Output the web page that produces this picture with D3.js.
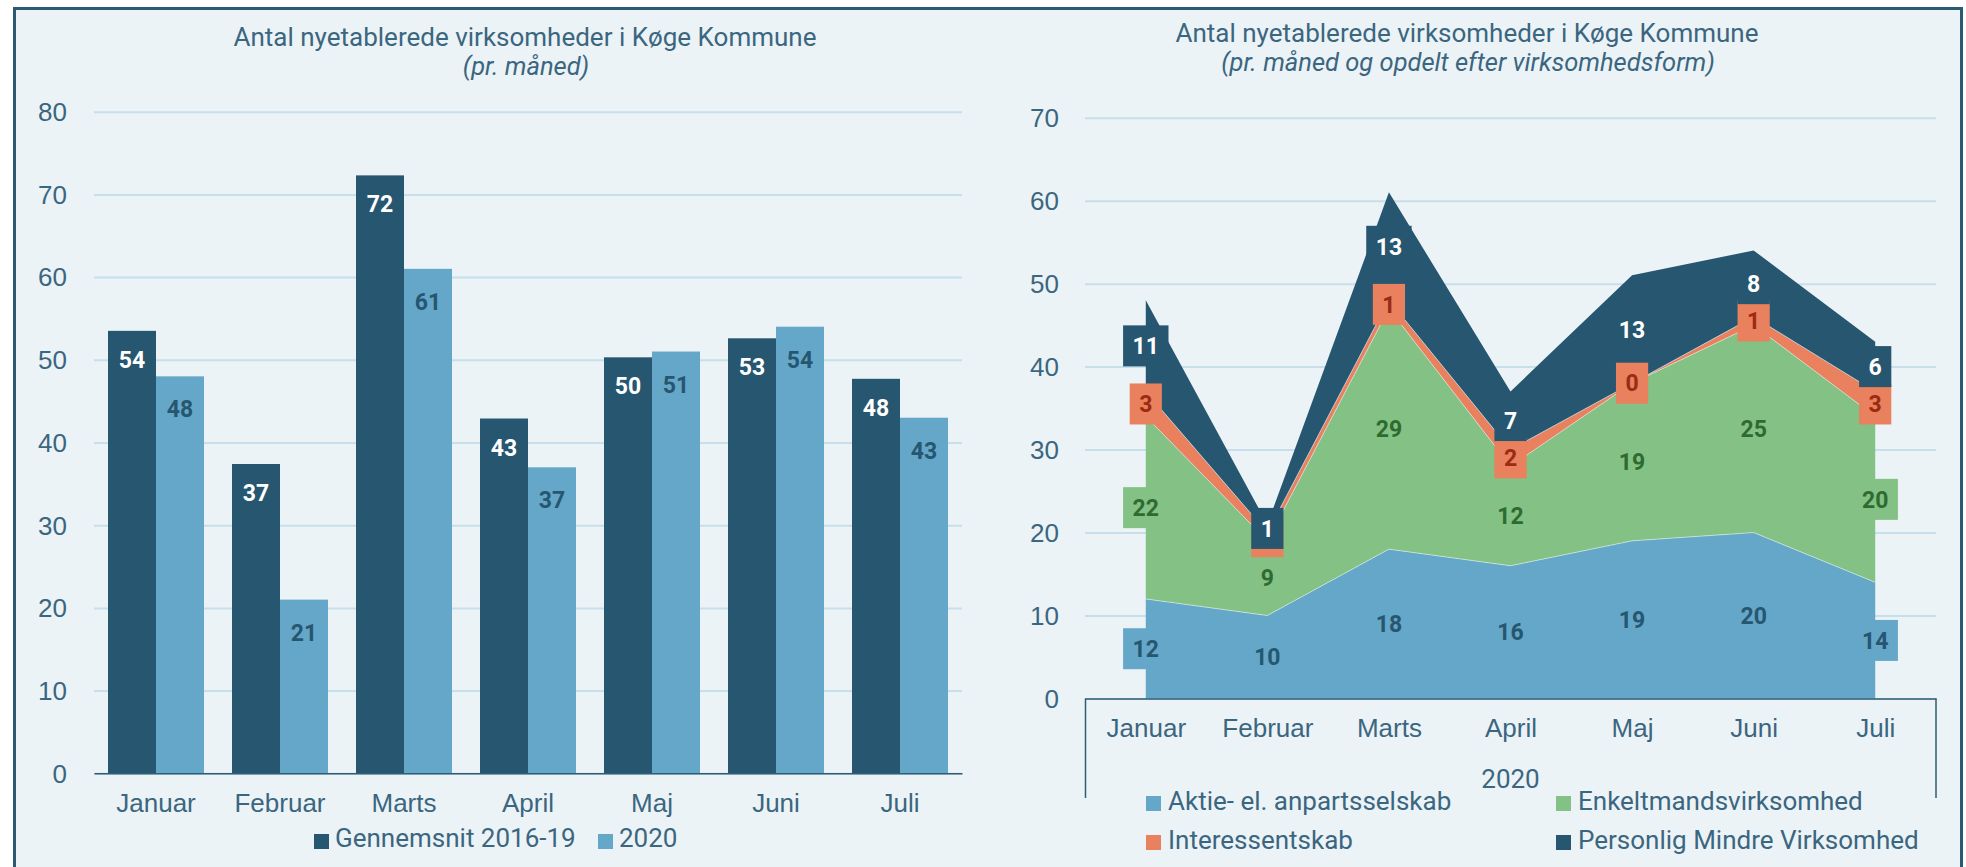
<!DOCTYPE html>
<html>
<head>
<meta charset="utf-8">
<script src="https://cdn.jsdelivr.net/npm/d3@7"></script>
<style>
  html, body { margin: 0; padding: 0; background: #ffffff; }
  svg { display: block; font-family: Roboto, "Noto Sans", sans-serif; }
</style>
</head>
<body>
<svg id="chart" width="1966" height="867"></svg>
<script>
// ---------- data ----------
const months = ["Januar", "Februar", "Marts", "April", "Maj", "Juni", "Juli"];
const barSeriesNames = ["Gennemsnit 2016-19", "2020"];
const avg2016_19 = [53.5, 37.4, 72.3, 42.9, 50.3, 52.6, 47.7];
const values2020 = [48, 21, 61, 37, 51, 54, 43];
const leftTicks = [0, 10, 20, 30, 40, 50, 60, 70, 80];

const areaSeriesNames = ["Aktie- el. anpartsselskab", "Enkeltmandsvirksomhed", "Interessentskab", "Personlig Mindre Virksomhed"];
const aktie = [12, 10, 18, 16, 19, 20, 14];
const enkelt = [22, 9, 29, 12, 19, 25, 20];
const interessent = [3, 1, 1, 2, 0, 1, 3];
const personlig = [11, 1, 13, 7, 13, 8, 6];
const rightTicks = [0, 10, 20, 30, 40, 50, 60, 70];
const yearLabel = "2020";

const leftTitle = "Antal nyetablerede virksomheder i Køge Kommune";
const leftSubtitle = "(pr. måned)";
const rightTitle = "Antal nyetablerede virksomheder i Køge Kommune";
const rightSubtitle = "(pr. måned og opdelt efter virksomhedsform)";

// ---------- styles ----------
const C = {
  panel: "#ecf3f7", border: "#2b5a73", grid: "#c7dfeb", text: "#3b6680", axis: "#2f5d75",
  dark: "#265670", light: "#65a7c8", green: "#84c184", orange: "#e9805e"
};
const FONT = 26;

const svg = d3.select("#chart");

// panel
svg.append("rect").attr("x", 14.5).attr("y", 8.5).attr("width", 1947).attr("height", 900)
  .attr("fill", C.panel).attr("stroke", C.border).attr("stroke-width", 3);

// ================= LEFT: grouped bars =================
const L = { x0: 94, x1: 962, y0: 773.3, y1: 111.7 };
const xL = d3.scaleBand().domain(months).range([L.x0, L.x1]).paddingInner(0.2258).paddingOuter(0.1129);
const xLi = d3.scaleBand().domain(barSeriesNames).range([0, xL.bandwidth()]);
const yL = d3.scaleLinear().domain([0, 80]).range([L.y0, L.y1]);

const gL = svg.append("g");
const yAxL = gL.append("g").attr("transform", `translate(${L.x0},0)`)
  .call(d3.axisLeft(yL).tickValues(leftTicks).tickSize(-(L.x1 - L.x0)).tickPadding(27).tickFormat(d3.format("d")));
yAxL.select(".domain").remove();
yAxL.selectAll(".tick line").attr("stroke", C.grid).attr("stroke-width", 2);
yAxL.selectAll(".tick text").attr("fill", C.text).attr("font-size", FONT).attr("dy", "0.34em");

const barData = months.map((m, i) => ({ m, vals: [
  { s: barSeriesNames[0], v: avg2016_19[i], fill: C.dark, tcol: "#ffffff", off: 37 },
  { s: barSeriesNames[1], v: values2020[i], fill: C.light, tcol: C.dark, off: 41 }
]}));
const grp = gL.selectAll("g.grp").data(barData).join("g").attr("class", "grp")
  .attr("transform", d => `translate(${xL(d.m)},0)`);
grp.selectAll("rect").data(d => d.vals).join("rect")
  .attr("x", d => xLi(d.s)).attr("width", xLi.bandwidth())
  .attr("y", d => yL(d.v)).attr("height", d => yL(0) - yL(d.v))
  .attr("fill", d => d.fill);
grp.selectAll("text").data(d => d.vals).join("text")
  .attr("x", d => xLi(d.s) + xLi.bandwidth() / 2).attr("y", d => yL(d.v) + d.off)
  .attr("text-anchor", "middle").attr("font-size", 23).attr("font-weight", "bold")
  .attr("fill", d => d.tcol).text(d => d3.format(".0f")(d.v));

const xAxL = gL.append("g").attr("transform", `translate(0,${L.y0})`)
  .call(d3.axisBottom(xL).tickSize(0).tickSizeOuter(0).tickPadding(20));
xAxL.select(".domain").attr("stroke", C.axis).attr("stroke-width", 1.5);
xAxL.selectAll(".tick text").attr("fill", C.text).attr("font-size", FONT);

// left titles
gL.append("text").attr("x", 525).attr("y", 46).attr("text-anchor", "middle")
  .attr("font-size", FONT).attr("fill", C.text).text(leftTitle);
gL.append("text").attr("x", 526).attr("y", 75).attr("text-anchor", "middle")
  .attr("font-size", 25.5).attr("font-style", "italic").attr("fill", C.text).text(leftSubtitle);

// left legend
const legL = [
  { name: barSeriesNames[0], col: C.dark, x: 314 },
  { name: barSeriesNames[1], col: C.light, x: 598 }
];
const lgL = gL.selectAll("g.lg").data(legL).join("g").attr("class", "lg");
lgL.append("rect").attr("x", d => d.x).attr("y", 834).attr("width", 15).attr("height", 15).attr("fill", d => d.col);
lgL.append("text").attr("x", d => d.x + 21).attr("y", 847).attr("font-size", FONT).attr("fill", C.text).text(d => d.name);

// ================= RIGHT: stacked area =================
const R = { x0: 1085, x1: 1936, y0: 698.5, y1: 117.7 };
const xR = d3.scalePoint().domain(months).range([R.x0, R.x1]).padding(0.5);
const yR = d3.scaleLinear().domain([0, 70]).range([R.y0, R.y1]);
const gR = svg.append("g");

const yAxR = gR.append("g").attr("transform", `translate(${R.x0},0)`)
  .call(d3.axisLeft(yR).tickValues(rightTicks).tickSize(-(R.x1 - R.x0)).tickPadding(26).tickFormat(d3.format("d")));
yAxR.select(".domain").remove();
yAxR.selectAll(".tick line").attr("stroke", C.grid).attr("stroke-width", 2);
yAxR.selectAll(".tick text").attr("fill", C.text).attr("font-size", FONT).attr("dy", "0.34em");

const rows = months.map((m, i) => ({
  m, a: aktie[i], e: enkelt[i], i: interessent[i], p: personlig[i]
}));
const keys = ["a", "e", "i", "p"];
const keyStyle = {
  a: { fill: C.light, tcol: C.dark, name: areaSeriesNames[0] },
  e: { fill: C.green, tcol: "#2f6b31", name: areaSeriesNames[1] },
  i: { fill: C.orange, tcol: "#9b2b12", name: areaSeriesNames[2] },
  p: { fill: C.dark, tcol: "#ffffff", name: areaSeriesNames[3] }
};
const stacked = d3.stack().keys(keys)(rows);
const area = d3.area().x(d => xR(d.data.m)).y0(d => yR(d[0])).y1(d => yR(d[1]));
const topLine = d3.line().x(d => xR(d.data.m)).y(d => yR(d[1]));

gR.selectAll("path.area").data(stacked).join("path").attr("class", "area")
  .attr("d", area).attr("fill", d => keyStyle[d.key].fill);
gR.selectAll("path.sep").data(stacked.slice(0, 3)).join("path").attr("class", "sep")
  .attr("d", topLine).attr("fill", "none").attr("stroke", "#dfeef0").attr("stroke-width", 0.8).attr("stroke-opacity", 0.8);

// data labels with boxes
stacked.forEach(layer => {
  const st = keyStyle[layer.key];
  const lg = gR.append("g");
  layer.forEach(d => {
    const v = d[1] - d[0];
    const cx = xR(d.data.m), cy = yR((d[0] + d[1]) / 2);
    const t = lg.append("text").attr("x", cx).attr("y", cy).attr("dy", "0.36em")
      .attr("text-anchor", "middle").attr("font-size", 23).attr("font-weight", "bold")
      .attr("fill", st.tcol).text(d3.format("d")(v));
    const w = t.node().getComputedTextLength() + 19;
    lg.insert("rect", () => t.node()).attr("x", cx - w / 2).attr("y", cy - 20.5)
      .attr("width", w).attr("height", 41).attr("fill", st.fill);
  });
});

// bottom axis (multi-level)
const xAxR = gR.append("g").attr("transform", `translate(0,${R.y0})`)
  .call(d3.axisBottom(xR).tickSize(0).tickSizeOuter(0).tickPadding(20));
xAxR.select(".domain").attr("stroke", C.axis).attr("stroke-width", 1.5);
xAxR.selectAll(".tick text").attr("fill", C.text).attr("font-size", FONT);
gR.selectAll("line.edge").data([R.x0 + 0.5, R.x1]).join("line").attr("class", "edge")
  .attr("x1", d => d).attr("x2", d => d).attr("y1", R.y0).attr("y2", 798)
  .attr("stroke", C.axis).attr("stroke-width", 1.5);
gR.append("text").attr("x", (R.x0 + R.x1) / 2).attr("y", 788).attr("text-anchor", "middle")
  .attr("font-size", FONT).attr("fill", C.text).text(yearLabel);

// right titles
gR.append("text").attr("x", 1467).attr("y", 42).attr("text-anchor", "middle")
  .attr("font-size", FONT).attr("fill", C.text).text(rightTitle);
gR.append("text").attr("x", 1468).attr("y", 71).attr("text-anchor", "middle")
  .attr("font-size", 25.5).attr("font-style", "italic").attr("fill", C.text).text(rightSubtitle);

// right legend
const legR = [
  { k: "a", x: 1146, y: 796 }, { k: "e", x: 1556, y: 796 },
  { k: "i", x: 1146, y: 835 }, { k: "p", x: 1556, y: 835 }
];
const lgR = gR.selectAll("g.lgr").data(legR).join("g").attr("class", "lgr");
lgR.append("rect").attr("x", d => d.x).attr("y", d => d.y).attr("width", 15).attr("height", 15)
  .attr("fill", d => keyStyle[d.k].fill);
lgR.append("text").attr("x", d => d.x + 22).attr("y", d => d.y + 14).attr("font-size", FONT)
  .attr("fill", C.text).text(d => keyStyle[d.k].name);
</script>
</body>
</html>
